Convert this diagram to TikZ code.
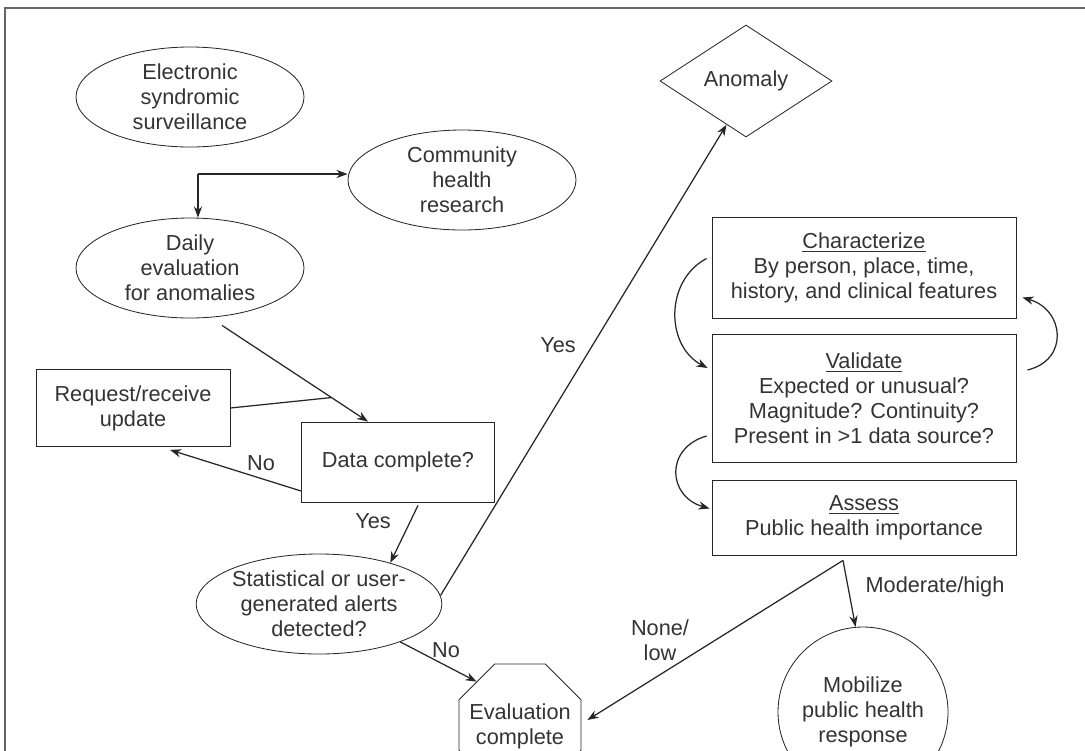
\documentclass[tikz,border=0pt]{standalone}
\usepackage{fontspec}
\setmainfont{Liberation Sans}
\usetikzlibrary{arrows.meta,shapes.geometric,calc}
\newlength\pix
\setlength\pix{0.017cm}

\begin{document}
\begin{tikzpicture}[
  x=0.017cm, y=-0.017cm,
  font=\fontsize{10.5}{12.1}\selectfont,
  every node/.style={text=black!80},
  oval/.style={draw=black!85,ellipse,align=center,inner sep=0pt,
    minimum width=228\pix,minimum height=100\pix},
  procbox/.style={draw=black!85,rectangle,align=center,inner sep=0pt,
    minimum width=304\pix},
  flow/.style={-{Stealth[length=1.9mm,width=1.4mm]},draw=black!85,semithick},
  joinline/.style={draw=black!85,semithick}
]
  \useasboundingbox (0,0) rectangle (1085,750);
  \clip (0,0) rectangle (1085,750);
  \draw[line width=0.9pt,black!60] (5,760) -- (5,8) -- (1090,8);

  \node[oval] (ess) at (190,97) {Electronic\\syndromic\\surveillance};
  \node[oval] (chr) at (462,180) {Community\\health\\research};
  \node[oval] (daily) at (190,268) {Daily\\evaluation\\for anomalies};
  \node[procbox,minimum width=194\pix,minimum height=77\pix] (req) at (133,408)
    {Request/receive\\update};
  \node[procbox,minimum width=193\pix,minimum height=80\pix] (datac) at (398,462)
    {Data complete?};
  \node[oval,minimum width=234\pix] (stat) at (319,604)
    {Statistical or user-\\generated alerts\\detected?};
  \node[draw=black!85,regular polygon,regular polygon sides=8,minimum size=132\pix,
    inner sep=0pt] (evalc) at (520,725)
    {\smash{\makebox[0pt]{\raisebox{-3.8pt}{\begin{tabular}{@{}c@{}}Evaluation\\complete\end{tabular}}}}};
  \node[draw=black!85,diamond,minimum width=172\pix,minimum height=112\pix,
    inner sep=0pt] (anom) at (746,81) {Anomaly};
  \node[procbox,minimum height=101\pix] (charz) at (864,267.5)
    {\underline{Characterize}\\By person, place, time,\\history, and clinical features};
  \node[procbox,minimum height=128\pix] (valid) at (864,398)
    {\underline{Validate}\\Expected or unusual?\\Magnitude? Continuity?\\Present in >1 data source?};
  \node[procbox,minimum height=75\pix] (assess) at (864,517.5)
    {\underline{Assess}\\Public health importance};
  \node[draw=black!85,circle,minimum size=170\pix,inner sep=0pt,align=center] (mobil)
    at (863,712) {Mobilize\\public health\\response};

  \coordinate (split) at (198,174);
  \draw[flow] (split) -- (split |- daily.north);
  \draw[flow] (split) -- (split -| chr.west);

  \draw[flow] ([shift={(32,7)}]daily.south) -- coordinate[pos=0.75] (join)
    ([shift={(-30,0)}]datac.north);
  \draw[joinline] (req.east) -- (join);
  \draw[flow] ([shift={(0,29)}]datac.west) -- ([shift={(37,3)}]req.south);
  \draw[flow] ([shift={(20,3)}]datac.south) -- (stat.30);
  \draw[flow] (stat.4) -- (anom.246);
  \draw[flow] (stat.-25) -- (evalc.135);

  \draw[flow] ([shift={(-5,-9)}]charz.west) .. controls +(-42,22) and +(-42,-22)
    .. ([shift={(-4,-30)}]valid.west);
  \draw[flow] ([shift={(-5,38)}]valid.west) .. controls +(-42,12) and +(-42,-12)
    .. ([shift={(-2,-9)}]assess.west);
  \draw[flow] ([shift={(11,-28)}]valid.east) .. controls +(42,-10) and +(42,12)
    .. ([shift={(6,30)}]charz.east);

  \coordinate (fork) at ([shift={(-21,5)}]assess.south);
  \draw[flow] (fork) -- (mobil.95);
  \draw[flow] (fork) -- ([shift={(6,-5)}]evalc.east);

  \node (no1) at (261,463) {No};
  \node (yes1) at (373,521) {Yes};
  \node (yes2) at (558,345) {Yes};
  \node (no2) at (446,650) {No};
  \node (modhigh) at (935,587) {Moderate/high};
  \node[align=center] (nonelow) at (660,640) {None/\\low};
\end{tikzpicture}
\end{document}
